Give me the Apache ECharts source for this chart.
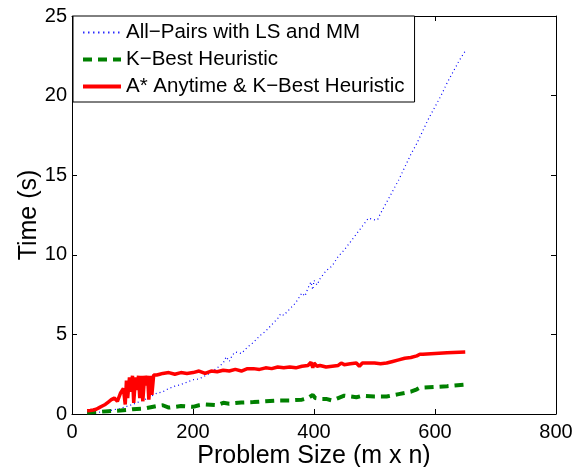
<!DOCTYPE html>
<html>
<head>
<meta charset="utf-8">
<script src="https://cdn.jsdelivr.net/npm/echarts@6/dist/echarts.min.js"></script>
<style>html,body{margin:0;padding:0;background:#fff}#c{width:582px;height:467px}</style>
</head>
<body>
<div id="c"></div>
<script>
const seriesNames = ["All\u2212Pairs with LS and MM", "K\u2212Best Heuristic", "A* Anytime & K\u2212Best Heuristic"];
const xTicks = [0, 200, 400, 600, 800];
const yTicks = [0, 5, 10, 15, 20, 25];

const allPairs = [[25,0.05],[40,0.08],[60,0.2],[80,0.35],[100,0.6],[110,0.75],[120,0.9],[130,1.1],[140,1.3],[150,1.4],[160,1.6],[170,1.75],[180,1.85],[190,2.0],[200,2.15],[210,2.2],[220,2.4],[230,2.6],[240,2.9],[250,3.2],[255,3.6],[260,3.3],[265,3.7],[270,3.9],[280,3.8],[290,4.2],[300,4.5],[310,4.9],[320,5.2],[330,5.6],[340,6.0],[345,6.3],[350,6.2],[360,6.6],[370,7.0],[375,7.3],[380,7.6],[385,7.4],[390,7.9],[395,8.3],[398,7.8],[400,8.4],[405,8.1],[410,8.5],[420,9.0],[430,9.3],[440,9.9],[450,10.3],[460,10.8],[470,11.3],[480,11.8],[490,12.3],[500,12.2],[505,12.2],[510,12.6],[520,13.3],[530,14.0],[540,14.7],[550,15.5],[560,16.3],[570,17.0],[580,17.8],[590,18.6],[600,19.3],[610,20.0],[620,20.8],[630,21.5],[640,22.2],[650,22.8]];

const kBest = [[25,0.1],[40,0.12],[60,0.18],[80,0.22],[90,0.25],[100,0.3],[120,0.35],[140,0.5],[150,0.55],[160,0.4],[180,0.5],[200,0.45],[210,0.55],[220,0.6],[240,0.55],[250,0.7],[260,0.65],[280,0.72],[300,0.75],[320,0.8],[340,0.85],[360,0.85],[380,0.9],[390,1.0],[398,1.2],[402,1.0],[410,0.95],[420,0.95],[430,0.85],[440,1.0],[450,1.15],[460,1.1],[470,1.05],[480,1.15],[500,1.1],[520,1.1],[540,1.25],[560,1.4],[570,1.55],[575,1.65],[600,1.7],[620,1.75],[650,1.85]];

const aStar = [[25,0.2],[30,0.22],[35,0.25],[40,0.3],[45,0.4],[50,0.5],[55,0.6],[60,0.75],[65,0.9],[70,1.0],[75,0.8],[80,1.3],[85,1.6],[88,0.6],[90,2.1],[92,1.0],[95,2.3],[97,1.4],[100,2.4],[102,0.7],[105,2.3],[107,1.5],[110,2.4],[112,1.0],[115,2.4],[117,0.8],[120,2.4],[122,1.8],[125,2.4],[127,0.9],[130,2.4],[132,1.2],[135,2.45],[140,2.45],[145,2.5],[150,2.55],[160,2.6],[170,2.5],[180,2.6],[190,2.55],[200,2.6],[210,2.7],[220,2.55],[230,2.7],[240,2.65],[250,2.75],[260,2.7],[270,2.8],[280,2.7],[290,2.85],[300,2.85],[310,2.8],[320,2.9],[330,2.85],[340,2.95],[350,2.9],[360,2.95],[370,2.9],[380,3.0],[390,3.05],[395,3.25],[398,2.9],[400,3.2],[405,3.0],[410,3.05],[420,2.95],[430,3.0],[440,3.05],[445,3.2],[450,3.1],[460,3.15],[470,3.2],[475,3.0],[480,3.2],[490,3.2],[500,3.2],[510,3.15],[520,3.2],[530,3.3],[540,3.4],[550,3.5],[560,3.55],[570,3.65],[575,3.75],[580,3.75],[600,3.8],[620,3.85],[650,3.9]];

const FONT = "Liberation Sans, Arial, Helvetica, sans-serif";
const chart = echarts.init(document.getElementById('c'), null, {renderer: 'canvas'});

function axisBase(extra) {
  return Object.assign({
    type: 'value',
    axisLine: {show: true, onZero: false, lineStyle: {color: '#000', width: 1}},
    axisTick: {show: true, inside: true, length: 5, lineStyle: {color: '#000'}},
    splitLine: {show: false},
    nameMoveOverlap: false,
    axisLabel: {color: '#000', fontSize: 20, fontFamily: FONT, margin: 8}
  }, extra);
}

chart.setOption({
  animation: false,
  backgroundColor: '#fff',
  grid: {left: 72, right: 26, top: 16, bottom: 53, containLabel: false, outerBoundsMode: 'none'},
  xAxis: [
    axisBase({min: xTicks[0], max: xTicks[xTicks.length-1], interval: 200, position: 'bottom',
      name: 'Problem Size (m x n)', nameLocation: 'middle', nameGap: 30,
      nameTextStyle: {color: '#000', fontSize: 25, fontFamily: FONT, verticalAlign: 'top'}}),
    axisBase({min: 0, max: 800, interval: 200, position: 'top', axisLabel: {show: false}})
  ],
  yAxis: [
    axisBase({min: yTicks[0], max: yTicks[yTicks.length-1], interval: 5, position: 'left',
      name: 'Time (s)', nameLocation: 'middle', nameGap: 30,
      axisLabel: {color: '#000', fontSize: 20, fontFamily: FONT, margin: 5},
      nameTextStyle: {color: '#000', fontSize: 25, fontFamily: FONT}}),
    axisBase({min: 0, max: 25, interval: 5, position: 'right', axisLabel: {show: false}})
  ],
  legend: {
    left: 73, top: 16,
    orient: 'vertical',
    align: 'left',
    itemWidth: 38, itemHeight: 14, itemGap: 6,
    padding: [6, 10, 5, 8],
    borderColor: '#000', borderWidth: 1, backgroundColor: '#fff',
    itemStyle: {opacity: 0},
    textStyle: {color: '#000', fontSize: 20.5, fontFamily: FONT},
    data: [
      {name: seriesNames[0], lineStyle: {color: '#2a2aff', width: 2, type: [1.5, 3.5], opacity: 1}},
      {name: seriesNames[1], lineStyle: {color: '#008000', width: 4, type: [9, 6]}},
      {name: seriesNames[2], lineStyle: {color: '#ff0000', width: 4, type: 'solid'}}
    ]
  },
  series: [
    {name: seriesNames[0], type: 'line', data: allPairs, symbol: 'none',
      lineStyle: {color: '#0000ff', width: 1.2, type: [1, 3]}, itemStyle: {color: '#0000ff'}},
    {name: seriesNames[1], type: 'line', data: kBest, symbol: 'none',
      lineStyle: {color: '#008000', width: 4, type: [9, 6]}, itemStyle: {color: '#008000'}},
    {name: seriesNames[2], type: 'line', data: aStar, symbol: 'none',
      lineStyle: {color: '#ff0000', width: 3.5, type: 'solid'}, itemStyle: {color: '#ff0000'}}
  ]
});
</script>
</body>
</html>
